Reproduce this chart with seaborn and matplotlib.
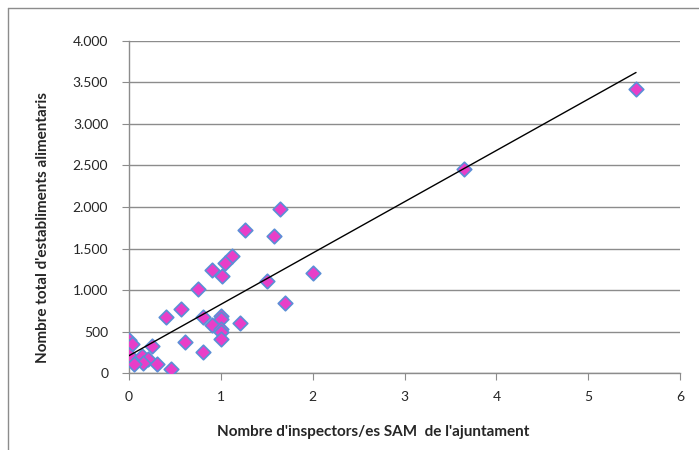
import matplotlib
matplotlib.use("Agg")
import matplotlib.pyplot as plt
from matplotlib.ticker import FuncFormatter
from matplotlib.lines import Line2D
import seaborn as sns
import pandas as pd

# inspectors per municipality vs number of food establishments
inspectors = [1.64, 1.26, 1.58, 1.12, 1.04, 0.90, 1.01, 2.00, 1.50, 0.75,
              1.70, 0.565, 0.40, 0.81, 1.00, 1.00, 0.906, 1.21, 1.00, 1.00,
              1.00, 0.61, 0.81, 0.00, 0.03, 0.00, 0.25, 0.145, 0.21, 0.156,
              0.31, 0.05, 0.46, 3.65, 5.52]
establiments = [1980, 1720, 1652, 1412, 1328, 1240, 1172, 1208, 1112, 1008,
                840, 772, 672, 680, 692, 652, 584, 600, 532, 492,
                412, 372, 252, 392, 344, 220, 324, 200, 172, 125,
                112, 104, 44, 2455, 3425]

df = pd.DataFrame({"x": inspectors, "y": establiments})

sns.set_style("white")
plt.rcParams["font.family"] = ["Lato", "DejaVu Sans"]

fig = plt.figure(figsize=(6.99, 4.5), dpi=100)
ax = fig.add_axes([0.1845, 0.1711, 0.973 - 0.1845, 0.9089 - 0.1711])

sns.regplot(data=df, x="x", y="y", ax=ax, ci=None,
            marker="D",
            scatter_kws={"s": 55, "color": "#E83EC8", "edgecolor": "#5B8FD6",
                         "linewidths": 1.2, "alpha": 1, "zorder": 3},
            line_kws={"color": "black", "linewidth": 1, "zorder": 4})

ax.set_xlim(0, 6)
ax.set_ylim(0, 4000)
ax.set_xticks(range(0, 7))
ax.set_yticks(range(0, 4001, 500))
ax.yaxis.set_major_formatter(FuncFormatter(lambda v, p: f"{int(v):,}".replace(",", ".")))
ax.grid(axis="y", color="#8c8c8c", linewidth=1)
ax.set_axisbelow(True)
for s in ["top", "right"]:
    ax.spines[s].set_visible(False)
for s in ["left", "bottom"]:
    ax.spines[s].set_color("#8c8c8c")
    ax.spines[s].set_linewidth(1)
ax.tick_params(axis="both", length=5, color="#8c8c8c", labelsize=10, direction="out",
               bottom=True, left=True)
ax.tick_params(axis="x", pad=8)
ax.tick_params(axis="y", pad=10)

ax.set_xlabel("Nombre d'inspectors/es SAM  de l'ajuntament", fontsize=11,
              fontweight="bold", va="center")
ax.set_ylabel("Nombre total d'establiments alimentaris", fontsize=11,
              fontweight="bold", va="center")
ax.xaxis.set_label_coords(0.443, -0.178)
ax.yaxis.set_label_coords(-0.156, 0.437)

# outer chart frame (left and top only visible)
fig.add_artist(Line2D([8 / 699, 8 / 699], [0, 1 - 8 / 450], color="#8c8c8c", lw=1,
                      transform=fig.transFigure))
fig.add_artist(Line2D([8 / 699, 1], [1 - 8 / 450, 1 - 8 / 450], color="#8c8c8c", lw=1,
                      transform=fig.transFigure))

fig.savefig("out.png", dpi=100)
